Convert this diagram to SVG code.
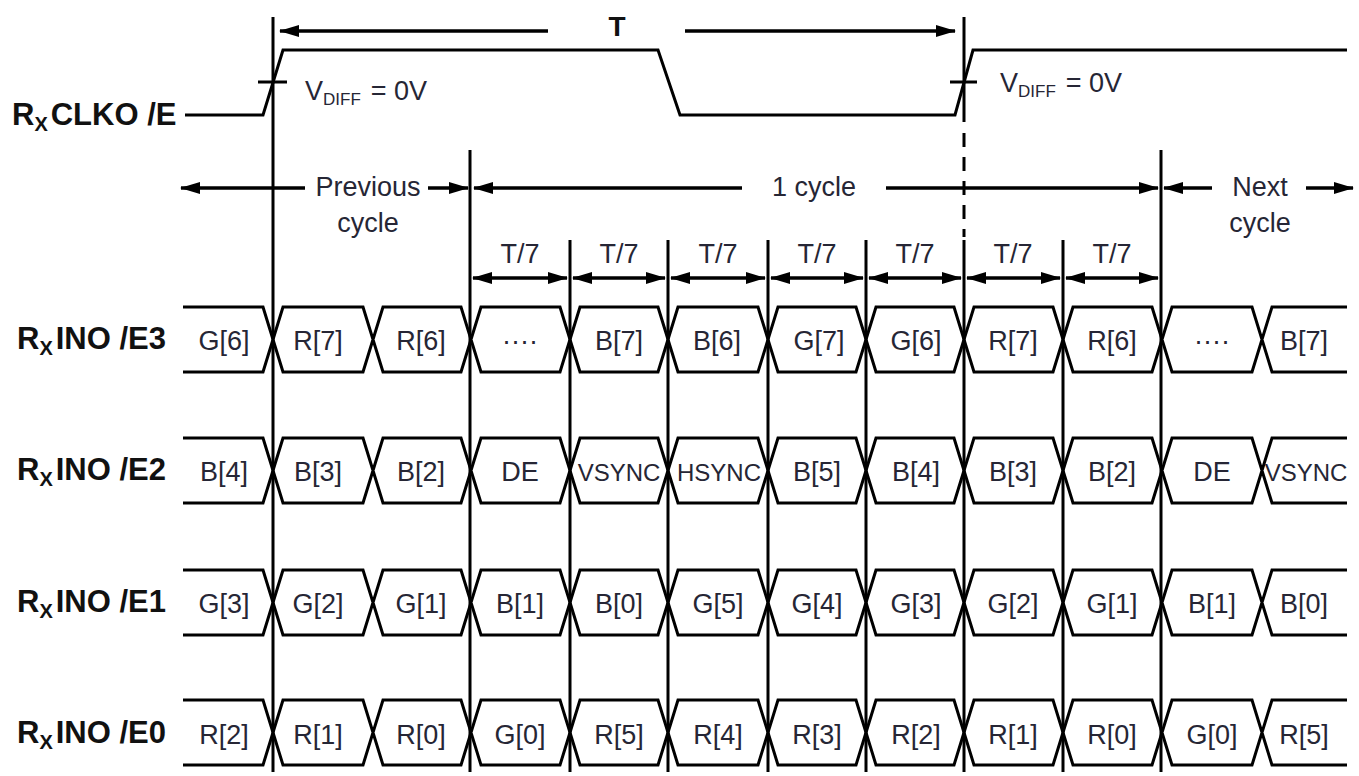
<svg xmlns="http://www.w3.org/2000/svg" width="1359" height="776" viewBox="0 0 1359 776">
<defs>
<style>
.ln{fill:none;stroke:#000;stroke-width:3;stroke-linejoin:miter}
.vl{fill:none;stroke:#000;stroke-width:3}
.ar{fill:none;stroke:#000;stroke-width:3.5;marker-start:url(#ah);marker-end:url(#ah)}
.t{font-family:"Liberation Sans",Arial,sans-serif;font-size:27px;fill:#262635;text-anchor:middle}
.lb{font-family:"Liberation Sans",Arial,sans-serif;font-size:31px;font-weight:bold;fill:#111}
.sync{font-size:24px}
</style>
<marker id="ah" viewBox="0 0 20 12" refX="19" refY="6" markerWidth="20" markerHeight="12" markerUnits="userSpaceOnUse" orient="auto-start-reverse"><path d="M0,0 L20,6 L0,12 z" fill="#000"/></marker>
<path id="bus" class="ln" d="M183,0 H263 L283,65 H363 L383,0 H461 L481,65 H560 L580,0 H658 L678,65 H758 L778,0 H856 L876,65 H954 L974,0 H1053 L1073,65 H1152 L1172,0 H1252 L1272,65 H1347 M183,65 H263 L283,0 H363 L383,65 H461 L481,0 H560 L580,65 H658 L678,0 H758 L778,65 H856 L876,0 H954 L974,65 H1053 L1073,0 H1152 L1172,65 H1252 L1272,0 H1347"/>
</defs>
<rect width="1359" height="776" fill="#fff"/>

<g id="clk">
<text class="lb" x="12" y="125">R<tspan font-size="20" dy="6">X</tspan><tspan dx="3" dy="-6">CLKO /E</tspan></text>
<path class="ln" d="M185,115 H263 L283,50 H658 L680,115 H955 L973,50 H1347"/>
<path class="ln" d="M258,82 H287 M950,82 H977"/>
<text class="t" x="305" y="100" text-anchor="start" style="text-anchor:start">V<tspan font-size="17" dy="5">DIFF</tspan><tspan dx="10" dy="-5">= 0V</tspan></text>
<text class="t" x="1000" y="92" style="text-anchor:start">V<tspan font-size="17" dy="5">DIFF</tspan><tspan dx="10" dy="-5">= 0V</tspan></text>
</g>

<g id="connectors">
<path class="vl" d="M273,17 V772 M470,150 V772 M1161,150 V772 M570,240 V772 M668,240 V772 M768,240 V772 M866,240 V772 M1063,240 V772 M964,17 V122 M964,240 V772"/>
<path class="vl" d="M964,133 V237" stroke-dasharray="14 10"/>
<path class="ar" d="M280,31 H548" style="marker-end:none"/>
<path class="ar" d="M685,31 H955" style="marker-start:none"/>
<path class="ar" d="M181,188 H305" style="marker-end:none"/>
<path class="ar" d="M428,188 H468" style="marker-start:none"/>
<path class="ar" d="M474,188 H742" style="marker-end:none"/>
<path class="ar" d="M886,188 H1158" style="marker-start:none"/>
<path class="ar" d="M1164,188 H1212" style="marker-end:none"/>
<path class="ar" d="M1306,188 H1353" style="marker-start:none"/>
<path class="ar" d="M473,278 H567"/>
<path class="ar" d="M573,278 H665"/>
<path class="ar" d="M671,278 H765"/>
<path class="ar" d="M771,278 H863"/>
<path class="ar" d="M869,278 H961"/>
<path class="ar" d="M967,278 H1060"/>
<path class="ar" d="M1066,278 H1158"/>
</g>

<g id="labels">
<text class="lb" x="617" y="36" text-anchor="middle" style="font-size:28px">T</text>
<text class="t" x="368" y="196">Previous</text>
<text class="t" x="368" y="232">cycle</text>
<text class="t" x="814" y="196">1 cycle</text>
<text class="t" x="1260" y="196">Next</text>
<text class="t" x="1260" y="232">cycle</text>
<text class="t" x="520" y="263">T/7</text>
<text class="t" x="619" y="263">T/7</text>
<text class="t" x="718" y="263">T/7</text>
<text class="t" x="817" y="263">T/7</text>
<text class="t" x="915" y="263">T/7</text>
<text class="t" x="1013" y="263">T/7</text>
<text class="t" x="1112" y="263">T/7</text>
</g>

<g id="e3">
<text class="lb" x="17" y="349">R<tspan font-size="20" dy="6">X</tspan><tspan dx="3" dy="-6">INO /E3</tspan></text>
<use href="#bus" y="307"/>
<text class="t" y="350"><tspan x="224">G[6]</tspan><tspan x="318">R[7]</tspan><tspan x="421">R[6]</tspan><tspan x="520">····</tspan><tspan x="619">B[7]</tspan><tspan x="717">B[6]</tspan><tspan x="819">G[7]</tspan><tspan x="916">G[6]</tspan><tspan x="1013">R[7]</tspan><tspan x="1112">R[6]</tspan><tspan x="1212">····</tspan><tspan x="1304">B[7]</tspan></text>
</g>

<g id="e2">
<text class="lb" x="17" y="480">R<tspan font-size="20" dy="6">X</tspan><tspan dx="3" dy="-6">INO /E2</tspan></text>
<use href="#bus" y="438"/>
<text class="t" y="481"><tspan x="224">B[4]</tspan><tspan x="318">B[3]</tspan><tspan x="421">B[2]</tspan><tspan x="520">DE</tspan><tspan x="619" class="sync">VSYNC</tspan><tspan x="719" class="sync">HSYNC</tspan><tspan x="817">B[5]</tspan><tspan x="916">B[4]</tspan><tspan x="1013">B[3]</tspan><tspan x="1112">B[2]</tspan><tspan x="1212">DE</tspan><tspan x="1306" class="sync">VSYNC</tspan></text>
</g>

<g id="e1">
<text class="lb" x="17" y="612">R<tspan font-size="20" dy="6">X</tspan><tspan dx="3" dy="-6">INO /E1</tspan></text>
<use href="#bus" y="570"/>
<text class="t" y="613"><tspan x="224">G[3]</tspan><tspan x="318">G[2]</tspan><tspan x="421">G[1]</tspan><tspan x="520">B[1]</tspan><tspan x="619">B[0]</tspan><tspan x="718">G[5]</tspan><tspan x="817">G[4]</tspan><tspan x="916">G[3]</tspan><tspan x="1013">G[2]</tspan><tspan x="1112">G[1]</tspan><tspan x="1212">B[1]</tspan><tspan x="1304">B[0]</tspan></text>
</g>

<g id="e0">
<text class="lb" x="17" y="743">R<tspan font-size="20" dy="6">X</tspan><tspan dx="3" dy="-6">INO /E0</tspan></text>
<use href="#bus" y="700"/>
<text class="t" y="744"><tspan x="224">R[2]</tspan><tspan x="318">R[1]</tspan><tspan x="421">R[0]</tspan><tspan x="520">G[0]</tspan><tspan x="619">R[5]</tspan><tspan x="718">R[4]</tspan><tspan x="817">R[3]</tspan><tspan x="916">R[2]</tspan><tspan x="1013">R[1]</tspan><tspan x="1112">R[0]</tspan><tspan x="1212">G[0]</tspan><tspan x="1304">R[5]</tspan></text>
</g>
</svg>
